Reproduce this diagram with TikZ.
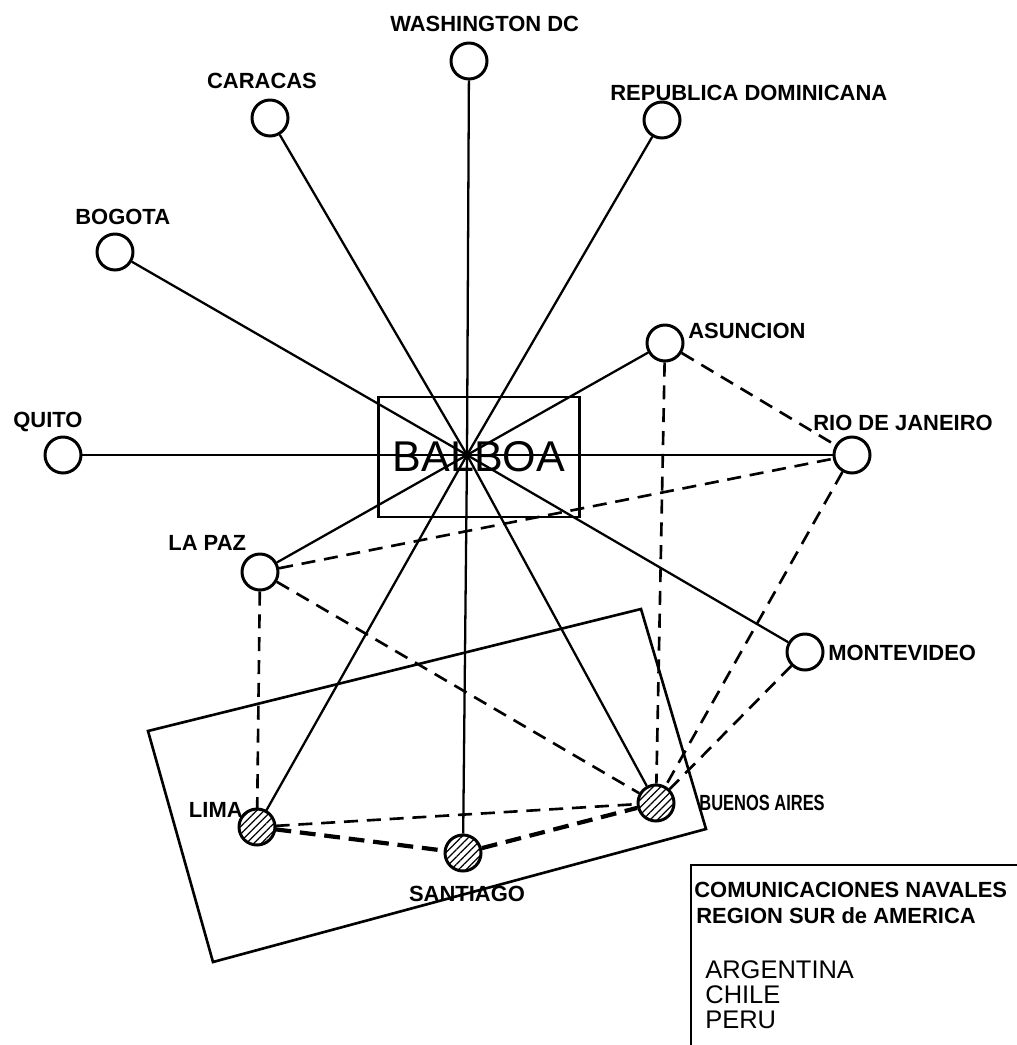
\documentclass[tikz,border=0pt]{standalone}
\usepackage{fontspec}
\setmainfont{Liberation Sans}
\usetikzlibrary{positioning, patterns.meta}

\begin{document}
\begin{tikzpicture}[
    x=0.02cm, y=-0.02cm,
    every node/.style={font=\fontsize{12.5}{14}\selectfont\bfseries},
    city/.style={
        circle,
        draw=black,
        fill=white,
        line width=1.7pt,
        minimum size=0.72cm,
        inner sep=0pt
    },
    member/.style={
        city,
        preaction={fill=white},
        pattern={Lines[angle=45, distance=3pt, line width=0.7pt]}
    },
    cityname/.style={inner sep=0pt},
    centre/.style={
        rectangle,
        draw=black,
        line width=1.3pt,
        minimum width=4.02cm,
        minimum height=2.4cm,
        font=\fontsize{24.5}{28}\selectfont\mdseries
    },
    entry/.style={inner sep=0pt, anchor=west, font=\fontsize{14.5}{16}\selectfont\mdseries},
    link/.style={line width=1.3pt},
    dlink/.style={line width=1.5pt, dash pattern=on 8pt off 5pt},
    heavy/.style={line width=2.4pt, dash pattern=on 9pt off 5pt},
    frame/.style={line width=1.5pt}
]
\useasboundingbox (0,0) rectangle (1017,1045);

% Balboa
\node[centre] (balboa) at (479,457) {BALBOA};
\coordinate (hub) at (467,455);

% stations
\node[city] (wash) at (469,61) {};
\node[city] (car) at (270,118) {};
\node[city] (repdom) at (662,120) {};
\node[city] (bog) at (115,252) {};
\node[city] (asu) at (665,343) {};
\node[city] (quito) at (63,455) {};
\node[city] (rio) at (852,455) {};
\node[city] (lapaz) at (260,572) {};
\node[city] (mvd) at (805,652) {};

% southern region
\node[member] (lima) at (257,827) {};
\node[member] (stgo) at (463,853) {};
\node[member] (bsas) at (656,803) {};

% names
\node[cityname, anchor=west] (wash-name) at (390,24) {WASHINGTON DC};
\node[cityname] (car-name) at (262,81) {CARACAS};
\node[cityname, anchor=west] (repdom-name) at (610,93) {REPUBLICA DOMINICANA};
\node[cityname, anchor=west] (bog-name) at (75,217) {BOGOTA};
\node[cityname, anchor=west] (asu-name) at (688,331) {ASUNCION};
\node[cityname, anchor=west] (quito-name) at (13,422) {QUITO};
\node[cityname, anchor=west] (rio-name) at (813,423) {RIO DE JANEIRO};
\node[cityname, anchor=west] (lapaz-name) at (168,543) {LA PAZ};
\node[cityname, anchor=west] (mvd-name) at (828,653) {MONTEVIDEO};
\node[cityname, anchor=east] (lima-name) at (243,810) {LIMA};
\node[cityname] (stgo-name) at (467,894) {SANTIAGO};
\node[cityname, anchor=west] (bsas-name) at (699,803) {\scalebox{0.75}[1]{BUENOS AIRES}};

% links to Balboa
\foreach \c in {wash, car, repdom, bog, asu, lapaz, mvd, lima, stgo, bsas}
    \draw[link] (hub) -- (\c);
\draw[link] (quito) -- (rio);

% dashed links
\draw[dlink] (asu) -- (rio);
\draw[dlink] (asu) -- (bsas);
\draw[dlink] (lapaz) -- (rio);
\draw[dlink] (rio) -- (bsas);
\draw[dlink] (mvd) -- (bsas);
\draw[dlink] (lapaz) -- (lima);
\draw[dlink] (lapaz) -- (bsas);
\draw[dlink] (lima) -- (bsas);
\draw[heavy] (lima) -- (stgo);
\draw[heavy] (stgo) -- (bsas);

% southern region frame
\draw[frame] (148,731) -- (641,609) -- (706,829) -- (213,962) -- cycle;

% legend
\draw[frame] (691,1060) |- (1030,865);
\node[cityname, anchor=west] (leg-title) at (694,890) {COMUNICACIONES NAVALES};
\node[cityname, anchor=west] (leg-sub) at (696,916) {REGION SUR de AMERICA};
\node[entry] (leg-arg) at (705,970) {ARGENTINA};
\node[entry] (leg-chi) at (705,995) {CHILE};
\node[entry] (leg-per) at (705,1020) {PERU};

\end{tikzpicture}
\end{document}
